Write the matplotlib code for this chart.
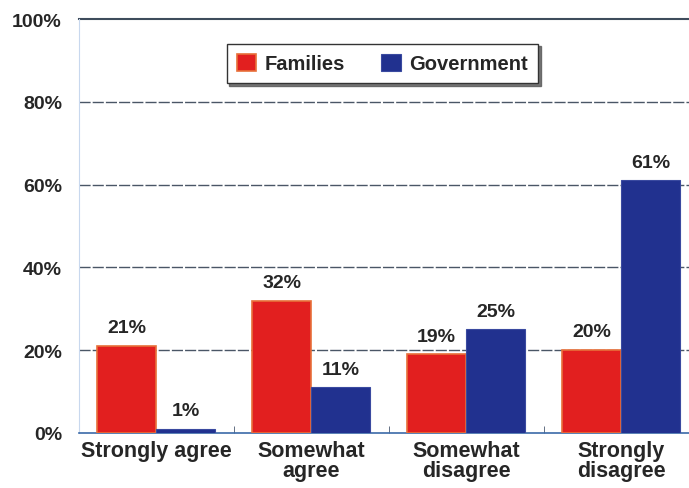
import matplotlib.pyplot as plt
import numpy as np

#----- data -----
categories = ["Strongly agree", "Somewhat\nagree", "Somewhat\ndisagree", "Strongly\ndisagree"]
families = [21, 32, 19, 20]
government = [1, 11, 25, 61]
yticks = [0, 20, 40, 60, 80, 100]

red = '#e21f1f'
blue = '#21318f'
txt = '#262626'

plt.rcParams['font.family'] = ['Liberation Sans', 'DejaVu Sans']
plt.rcParams['font.weight'] = 'bold'

fig = plt.figure(figsize=(6.89, 4.89), dpi=100)
ax = fig.add_axes([0.114, 0.1125, 0.90, 0.8466])

x = np.arange(len(categories))
w = 0.38
b1 = ax.bar(x - w/2, families, w, color=red, edgecolor='#e8703a', linewidth=1.2, label='Families', zorder=3)
b2 = ax.bar(x + w/2, government, w, color=blue, edgecolor='#3a4aa0', linewidth=0.8, label='Government', zorder=3)

for bars, vals in ((b1, families), (b2, government)):
    for r, v in zip(bars, vals):
        ax.annotate(f"{v}%", (r.get_x() + r.get_width()/2, v), xytext=(0, 7),
                    textcoords='offset points', ha='center', va='bottom',
                    fontsize=14, fontweight='bold', color=txt)

ax.set_xlim(-0.5, len(categories) - 0.5)
ax.set_ylim(0, 100)
ax.set_yticks(yticks)
ax.set_yticklabels([f"{t}%" for t in yticks], fontsize=14, fontweight='bold', color=txt)
ax.set_xticks(x)
ax.set_xticklabels(categories, fontsize=15.5, fontweight='bold', color=txt, linespacing=0.95, va='top')
ax.tick_params(axis='y', length=0, pad=12)
ax.tick_params(axis='x', length=0, pad=5)
# small separators between groups
ax.set_xticks(x[:-1] + 0.5, minor=True)
ax.tick_params(axis='x', which='minor', direction='in', length=5, color='#4a5a70')

for t in yticks[1:-1]:
    ax.axhline(t, color='#4a5666', linewidth=1.0, linestyle=(0, (8, 1.5)), zorder=1)
ax.axhline(100, color='#3e4c5c', linewidth=1.5, zorder=1, clip_on=False)

for s in ('top', 'right'):
    ax.spines[s].set_visible(False)
ax.spines['left'].set_color('#c8d8ee')
ax.spines['bottom'].set_color('#3b6aa8')
ax.spines['bottom'].set_linewidth(1.2)

leg = ax.legend(loc='upper center', bbox_to_anchor=(0.49, 0.965), ncol=2, frameon=True,
                fancybox=False, shadow={'color': '#555555', 'alpha': 0.8}, edgecolor='#333333',
                fontsize=14.5, handlelength=0.95, handleheight=0.95, columnspacing=1.8,
                borderpad=0.5, handletextpad=0.45)
for t in leg.get_texts():
    t.set_color(txt)
    t.set_fontweight('bold')

fig.savefig('out.png', dpi=100)
